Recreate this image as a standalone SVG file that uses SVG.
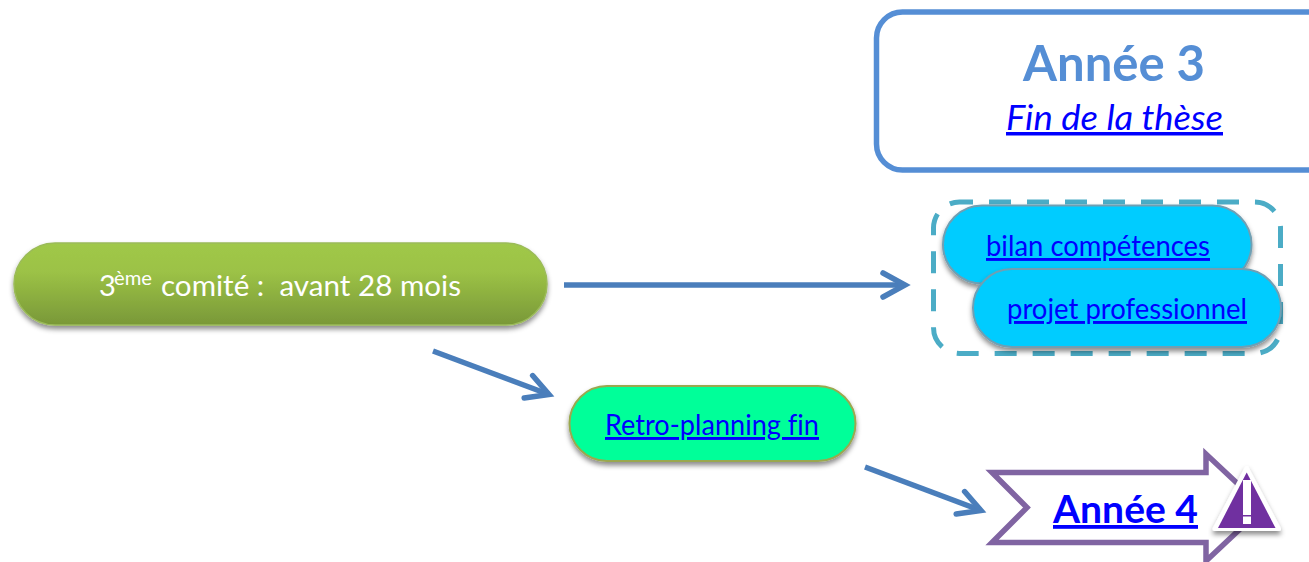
<svg xmlns="http://www.w3.org/2000/svg" width="1309" height="562" viewBox="0 0 1309 562">
  <style>
    text { font-family: "Lato", "Noto Sans", "Liberation Sans", sans-serif; font-variant-ligatures: none; }
    .link { fill: #0000ff; text-decoration: underline; }
    .conn { fill: none; stroke: #4a7ebb; stroke-width: 5.500; marker-end: url(#head); }
    .pill { fill: #00ccff; stroke: #6f9fb3; stroke-width: 2; filter: url(#shadow); }
  </style>
  <defs>
    <linearGradient id="green" x1="0" y1="0" x2="0" y2="1">
      <stop offset="0" stop-color="#a0c848"/>
      <stop offset="0.35" stop-color="#9cc246"/>
      <stop offset="1" stop-color="#799838"/>
    </linearGradient>
    <filter id="shadow" x="-10%" y="-20%" width="120%" height="150%">
      <feDropShadow dx="0" dy="3.500" stdDeviation="2.500" flood-color="#000" flood-opacity="0.45"/>
    </filter>
    <marker id="head" markerUnits="userSpaceOnUse" markerWidth="40" markerHeight="40" refX="30" refY="20" orient="auto" overflow="visible">
      <path d="M8,8 L30,20 L8,32" fill="none" stroke="#4a7ebb" stroke-width="5.500" stroke-linecap="round" stroke-miterlimit="10"/>
    </marker>
  </defs>

  <g id="connectors">
    <path class="conn" d="M564,285 L905,285"/>
    <path class="conn" d="M433,351 L549,394.500"/>
    <path class="conn" d="M865,467 L981,510.500"/>
  </g>

  <g id="node-annee3">
    <rect x="876.500" y="12" width="470" height="158" rx="26" fill="#fff" stroke="#558ed5" stroke-width="5.500"/>
    <text x="1023" y="81" font-size="50" font-weight="700" fill="#558ed5" textLength="182" lengthAdjust="spacingAndGlyphs">Année 3</text>
    <text class="link" x="1006" y="130" font-size="35" font-style="italic" textLength="217" lengthAdjust="spacingAndGlyphs">Fin de la thèse</text>
  </g>

  <g id="node-competences">
    <rect x="933.500" y="202" width="347" height="151.500" rx="26" fill="none" stroke="#4bacc6" stroke-width="5" stroke-dasharray="22 16" stroke-dashoffset="8.500"/>
    <g id="node-bilan">
      <rect class="pill" x="943" y="205.500" width="308.500" height="78" rx="39"/>
      <text class="link" x="986" y="256" font-size="29" textLength="224" lengthAdjust="spacingAndGlyphs">bilan compétences</text>
    </g>
    <g id="node-projet">
      <rect class="pill" x="973" y="269" width="308" height="78" rx="39"/>
      <text class="link" x="1007" y="319" font-size="29" textLength="240" lengthAdjust="spacingAndGlyphs">projet professionnel</text>
    </g>
  </g>

  <g id="node-comite">
    <rect x="14" y="243" width="533" height="82" rx="41" fill="url(#green)" stroke="#9bbb59" stroke-width="1.500" filter="url(#shadow)"/>
    <text y="296" font-size="29" fill="#fff"><tspan x="99">3</tspan><tspan x="114" y="285" font-size="19" textLength="38" lengthAdjust="spacingAndGlyphs">ème</tspan><tspan x="161" y="296" textLength="300" lengthAdjust="spacingAndGlyphs" xml:space="preserve">comité :  avant 28 mois</tspan></text>
  </g>

  <g id="node-retro">
    <rect x="569.500" y="386" width="286" height="75" rx="37.500" fill="#00ff99" stroke="#9aa850" stroke-width="2" filter="url(#shadow)"/>
    <text class="link" x="605" y="435" font-size="29" textLength="214" lengthAdjust="spacingAndGlyphs">Retro-planning fin</text>
  </g>

  <g id="node-annee4">
    <path d="M992,472.500 L1206,472.500 L1206,454 L1263,507.500 L1206,561 L1206,542.500 L992,542.500 L1027,507.500 Z" fill="#fff" stroke="#8064a2" stroke-width="5.500"/>
    <text class="link" x="1053" y="523" font-size="38" font-weight="700" textLength="145" lengthAdjust="spacingAndGlyphs">Année 4</text>
    <path d="M1246.700,468 L1279,529 L1214.500,529 Z" fill="#fff" stroke="#fff" stroke-width="4" stroke-linejoin="round" filter="url(#shadow)"/>
    <path d="M1246.700,472.500 L1275.500,528 L1218,528 Z" fill="#7030a0"/>
    <rect x="1243" y="480" width="8" height="35" fill="#fff"/>
    <rect x="1243" y="516.500" width="8" height="7.500" fill="#fff"/>
  </g>
</svg>
